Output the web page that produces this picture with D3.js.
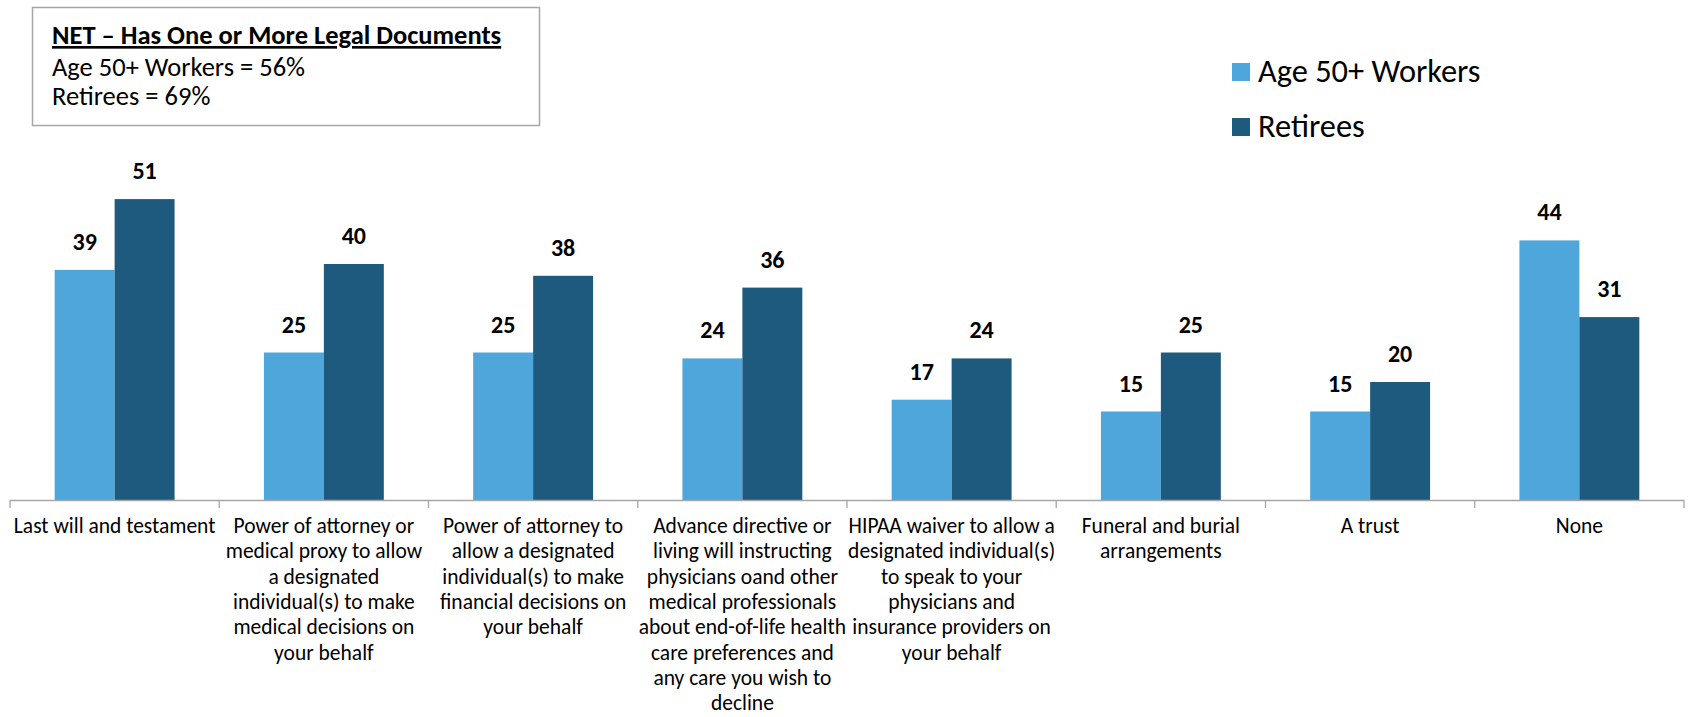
<!DOCTYPE html>
<html>
<head>
<meta charset="utf-8">
<script src="https://cdn.jsdelivr.net/npm/d3@7"></script>
<style>
  html, body { margin: 0; padding: 0; background: #fff; }
  svg { display: block; font-family: Carlito, Calibri, Lato, "Open Sans", sans-serif; }
</style>
</head>
<body>
<svg id="chart" width="1690" height="717"></svg>
<script>
const categories = [
  "Last will and testament",
  "Power of attorney or medical proxy to allow a designated individual(s) to make medical decisions on your behalf",
  "Power of attorney to allow a designated individual(s) to make financial decisions on your behalf",
  "Advance directive or living will instructing physicians oand other medical professionals about end-of-life health care preferences and any care you wish to decline",
  "HIPAA waiver to allow a designated individual(s) to speak to your physicians and insurance providers on your behalf",
  "Funeral and burial arrangements",
  "A trust",
  "None"
];
const categoryLines = [
  ["Last will and testament"],
  ["Power of attorney or", "medical proxy to allow", "a designated", "individual(s) to make", "medical decisions on", "your behalf"],
  ["Power of attorney to", "allow a designated", "individual(s) to make", "financial decisions on", "your behalf"],
  ["Advance directive or", "living will instructing", "physicians oand other", "medical professionals", "about end-of-life health", "care preferences and", "any care you wish to", "decline"],
  ["HIPAA waiver to allow a", "designated individual(s)", "to speak to your", "physicians and", "insurance providers on", "your behalf"],
  ["Funeral and burial", "arrangements"],
  ["A trust"],
  ["None"]
];
const seriesNames = ["Age 50+ Workers", "Retirees"];
const workers = [39, 25, 25, 24, 17, 15, 15, 44];
const retirees = [51, 40, 38, 36, 24, 25, 20, 31];
const colors = ["#4FA6DA", "#1E5A7D"];
const netTitle = "NET \u2013 Has One or More Legal Documents";
const netLines = ["Age 50+ Workers = 56%", "Retirees = 69%"];

const svg = d3.select("#chart");
const baseY = 500;
const x0 = d3.scaleBand().domain(d3.range(categories.length)).range([10, 1684]).padding(0);
const bw = x0.bandwidth();
const x1 = d3.scaleBand().domain(seriesNames).range([bw * 0.2135, bw * 0.7865]).padding(0);
const y = d3.scaleLinear().domain([0, 60]).range([baseY, baseY - 60 * 5.9]);

const data = categories.map((c, i) => ({ i, vals: [workers[i], retirees[i]] }));

const groups = svg.append("g").selectAll("g").data(data).join("g")
  .attr("transform", d => `translate(${x0(d.i)},0)`);

groups.selectAll("rect").data(d => d.vals.map((v, k) => ({ v, k })))
  .join("rect")
  .attr("x", d => x1(seriesNames[d.k]))
  .attr("width", x1.bandwidth())
  .attr("y", d => y(d.v))
  .attr("height", d => y(0) - y(d.v))
  .attr("fill", d => colors[d.k]);

groups.selectAll("text.val").data(d => d.vals.map((v, k) => ({ v, k })))
  .join("text")
  .attr("class", "val")
  .attr("x", d => x1(seriesNames[d.k]) + x1.bandwidth() / 2)
  .attr("y", d => y(d.v) - 20)
  .attr("text-anchor", "middle")
  .attr("font-weight", "bold")
  .attr("font-size", 24)
  .attr("fill", "#000")
  .text(d => d.v);

// axis
const axisG = svg.append("g").attr("transform", `translate(0,${baseY})`);
const tickPos = d3.range(categories.length + 1).map(i => i < categories.length ? x0(i) : x0(i - 1) + bw);
axisG.append("line").attr("x1", 10).attr("x2", 1684).attr("y1", 0.5).attr("y2", 0.5)
  .attr("stroke", "#A6A6A6").attr("stroke-width", 1.3);
axisG.selectAll("line.tick").data(tickPos).join("line")
  .attr("class", "tick")
  .attr("x1", d => d).attr("x2", d => d).attr("y1", 0).attr("y2", 8)
  .attr("stroke", "#A6A6A6").attr("stroke-width", 1.3);

// category labels
const labels = svg.append("g").selectAll("text").data(data).join("text")
  .attr("text-anchor", "middle")
  .attr("font-size", 21.5)
  .attr("fill", "#000")
  .attr("transform", d => `translate(${x0(d.i) + bw / 2},${533})`);
labels.selectAll("tspan").data(d => categoryLines[d.i]).join("tspan")
  .attr("x", 0)
  .attr("y", (d, j) => j * 25.3)
  .text(d => d);

// NET box
const box = svg.append("g");
box.append("rect").attr("x", 32.5).attr("y", 7.5).attr("width", 507).attr("height", 118)
  .attr("fill", "#fff").attr("stroke", "#A6A6A6").attr("stroke-width", 1.5);
box.append("text").attr("x", 52).attr("y", 44).attr("font-size", 26.5).attr("font-weight", "bold")
  .attr("text-decoration", "underline").text(netTitle);
box.selectAll("text.net").data(netLines).join("text").attr("class", "net")
  .attr("x", 52).attr("y", (d, i) => 75.5 + i * 29).attr("font-size", 26.5).text(d => d);

// legend
const legend = svg.append("g").selectAll("g").data(seriesNames).join("g")
  .attr("transform", (d, i) => `translate(1232,${63 + i * 55})`);
legend.append("rect").attr("width", 18).attr("height", 18).attr("fill", (d, i) => colors[i]);
legend.append("text").attr("x", 26).attr("y", 19).attr("font-size", 32.4).text(d => d);
</script>
</body>
</html>
